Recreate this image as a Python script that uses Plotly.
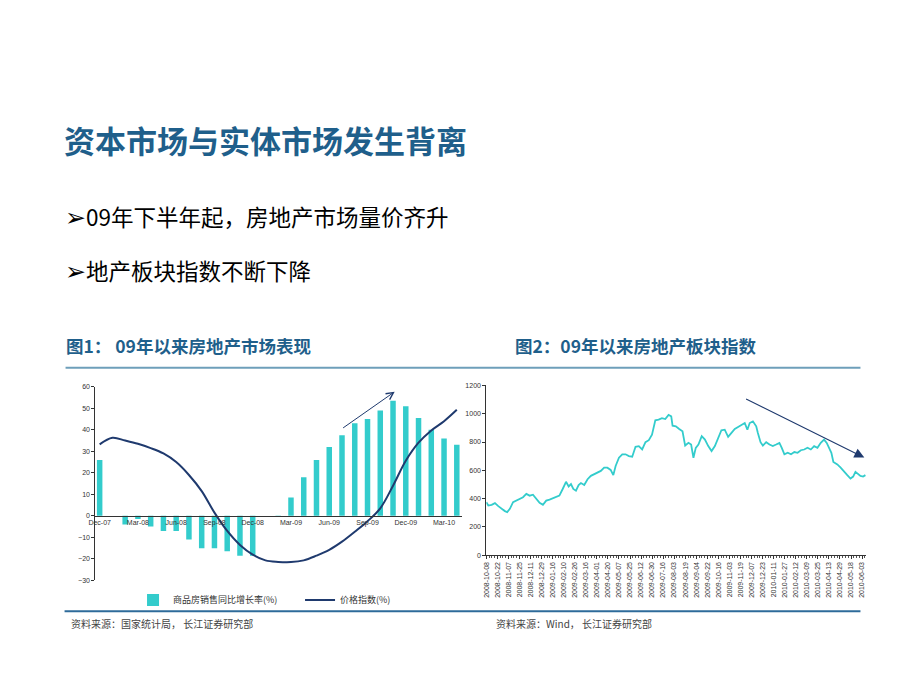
import plotly.graph_objects as go

W, H = 920, 690
def px(x): return x / W
def py(y): return 1 - y / H

# ---------------- Left chart data (monthly) ----------------
months = ["Dec-07", "Jan-08", "Feb-08", "Mar-08", "Apr-08", "May-08", "Jun-08", "Jul-08",
          "Aug-08", "Sep-08", "Oct-08", "Nov-08", "Dec-08", "Jan-09", "Feb-09", "Mar-09",
          "Apr-09", "May-09", "Jun-09", "Jul-09", "Aug-09", "Sep-09", "Oct-09", "Nov-09",
          "Dec-09", "Jan-10", "Feb-10", "Mar-10", "Apr-10"]
sales_yoy = [26, None, -4, -1.5, -5, -7, -7, -11, -15, -15, -16.5, -18.5, -18.5, None,
             -0.4, 8.5, 18, 26, 32, 37.5, 43, 45, 49, 53.5, 51, 45.5, 40, 36, 33]
price_index = [33.2, 36.3, 35.0, 33.5, 31.5, 29.0, 25.0, 19.0, 11.5, 1.5, -7.0, -13.5,
               -18.0, -20.7, -21.4, -21.5, -20.7, -18.5, -15.8, -12.0, -7.4, -2.5, 3.5,
               14.0, 25.6, 34.0, 39.7, 44.0, 49.3]
left_tick_labels = ["Dec-07", "Mar-08", "Jun-08", "Sep-08", "Dec-08", "Mar-09",
                    "Jun-09", "Sep-09", "Dec-09", "Mar-10"]

# ---------------- Right chart data (index, traced) ----------------
date_labels = ["2008-10-08", "2008-10-22", "2008-11-07", "2008-11-25", "2008-12-11",
               "2008-12-29", "2009-01-16", "2009-02-10", "2009-02-26", "2009-03-16",
               "2009-04-01", "2009-04-20", "2009-05-07", "2009-05-25", "2009-06-12",
               "2009-06-30", "2009-07-16", "2009-08-03", "2009-08-19", "2009-09-04",
               "2009-09-22", "2009-10-16", "2009-11-03", "2009-11-19", "2009-12-07",
               "2009-12-23", "2010-01-11", "2010-01-27", "2010-02-12", "2010-03-09",
               "2010-03-25", "2010-04-13", "2010-04-29", "2010-05-18", "2010-06-03"]
# position measured in label intervals (0 = 2008-10-08)
idx_pos = [0.0, 0.18, 0.48, 0.78, 1.08, 1.38, 1.68, 1.89, 2.13, 2.42, 2.72, 3.02, 3.32,
           3.62, 3.92, 4.22, 4.52, 4.82, 5.12, 5.42, 5.72, 6.02, 6.32, 6.61, 6.91, 7.21,
           7.45, 7.66, 7.87, 8.11, 8.35, 8.56, 8.86, 9.16, 9.46, 9.76, 10.06, 10.36,
           10.66, 10.95, 11.25, 11.49, 11.70, 12.00, 12.30, 12.60, 12.90, 13.20, 13.50,
           13.80, 14.10, 14.40, 14.70, 14.99, 15.29, 15.59, 15.89, 16.19, 16.49, 16.73,
           16.85, 17.15, 17.45, 17.75, 17.99, 18.29, 18.53, 18.74, 18.95, 19.19, 19.49,
           19.78, 20.08, 20.38, 20.68, 20.97, 21.27, 21.57, 21.88, 22.18, 22.48, 22.78,
           23.08, 23.38, 23.62, 23.83, 24.12, 24.42, 24.57, 24.81, 25.02, 25.32, 25.62,
           25.92, 26.22, 26.52, 26.73, 26.97, 27.27, 27.57, 27.87, 28.16, 28.46, 28.76,
           29.06, 29.36, 29.66, 29.96, 30.26, 30.56, 30.80, 31.01, 31.22, 31.40, 31.76,
           32.06, 32.36, 32.66, 32.95, 33.19, 33.40, 33.61, 33.85, 34.09, 34.30]
sector_index = [375, 351, 356, 368, 347, 328, 312, 305, 328, 375, 386, 398, 410, 433, 421,
                428, 398, 370, 356, 386, 393, 403, 410, 421, 468, 519, 486, 503, 468, 456,
                496, 510, 496, 537, 561, 573, 580, 596, 619, 619, 603, 566, 631, 689, 713,
                713, 701, 696, 766, 771, 748, 799, 813, 852, 953, 958, 969, 962, 992, 981,
                915, 911, 892, 876, 775, 794, 782, 689, 759, 782, 841, 817, 771, 736, 771,
                822, 883, 887, 836, 864, 892, 906, 922, 934, 887, 934, 946, 911, 864, 799,
                775, 799, 782, 771, 782, 794, 759, 713, 724, 713, 729, 724, 742, 747, 759,
                747, 771, 759, 794, 817, 794, 759, 724, 659, 642, 619, 589, 566, 542, 556,
                589, 573, 561, 556, 566]

TEAL = "#33CCCC"
NAVY = "#1F3A6E"
BLUE_TXT = "#1F5F8B"
AX = "#333333"
CJK = "Noto Sans CJK SC"
LAT = "Liberation Sans"

fig = go.Figure()

fig.add_trace(go.Bar(x=months, y=sales_yoy, name="商品房销售同比增长率(%)",
                     marker=dict(color=TEAL, line=dict(width=0)), width=0.43,
                     xaxis="x", yaxis="y"))
fig.add_trace(go.Scatter(x=months, y=price_index, name="价格指数(%)", mode="lines",
                         line=dict(color=NAVY, width=2, shape="spline", smoothing=1.0),
                         xaxis="x", yaxis="y"))
fig.add_trace(go.Scatter(x=idx_pos, y=sector_index, mode="lines", showlegend=False,
                         line=dict(color=TEAL, width=1.8),
                         xaxis="x2", yaxis="y2"))

# left chart geometry
yd0, yd1 = py(582.3), py(386.7)
zero_pos = yd0 + (yd1 - yd0) * (30 / 90)

fig.update_layout(
    width=W, height=H, autosize=False,
    margin=dict(l=0, r=0, t=0, b=0),
    paper_bgcolor="white", plot_bgcolor="white",
    xaxis=dict(domain=[px(89), px(458)], anchor="free", position=zero_pos,
               type="category", range=[-0.34, 28.37],
               tickmode="array", tickvals=left_tick_labels, ticktext=left_tick_labels,
               showline=True, linecolor=AX, linewidth=1, ticks="",
               showgrid=False, zeroline=False,
               tickfont=dict(family=LAT, size=7, color=AX)),
    yaxis=dict(domain=[yd0, yd1], anchor="x", range=[-30, 60], dtick=10,
               showline=True, linecolor=AX, linewidth=1, ticks="outside", ticklen=3,
               tickcolor=AX, showgrid=False, zeroline=False,
               tickfont=dict(family=LAT, size=7, color=AX)),
    xaxis2=dict(domain=[px(483), px(866)], anchor="y2", range=[0, 34.39],
                tickmode="array", tickvals=list(range(len(date_labels))),
                ticktext=date_labels, tickangle=-90,
                showline=True, linecolor=AX, linewidth=1, ticks="outside", ticklen=3,
                tickcolor=AX, minor=dict(ticks="outside", ticklen=2, dtick=0.25,
                                         tickcolor="#555555"),
                showgrid=False, zeroline=False,
                tickfont=dict(family=LAT, size=7, color=AX)),
    yaxis2=dict(domain=[py(556.9), py(385.3)], anchor="x2", range=[0, 1200], dtick=200,
                showline=True, linecolor=AX, linewidth=1, ticks="outside", ticklen=3,
                tickcolor=AX, showgrid=False, zeroline=False,
                tickfont=dict(family=LAT, size=7, color=AX)),
    legend=dict(orientation="h", x=px(127), y=py(602), xanchor="left", yanchor="middle",
                font=dict(family=CJK, size=9, color=AX), bgcolor="rgba(0,0,0,0)",
                entrywidth=122, entrywidthmode="pixels", itemwidth=30),
)

annotations = [
    dict(text="<b>资本市场与实体市场发生背离</b>", x=px(55), y=py(137), size=31, color=BLUE_TXT),
    dict(text="<span style='font-size:25px'>➢</span>09年下半年起，房地产市场量价齐升",
         x=px(56), y=py(213), size=22.5, color="#000000"),
    dict(text="<span style='font-size:25px'>➢</span>地产板块指数不断下降",
         x=px(56), y=py(268), size=22.5, color="#000000"),
    dict(text="<b>图1： 09年以来房地产市场表现</b>", x=px(57), y=py(345), size=17.5, color=BLUE_TXT),
    dict(text="<b>图2：09年以来房地产板块指数</b>", x=px(510), y=py(345), size=17.5, color=BLUE_TXT),
    dict(text="资料来源：国家统计局， 长江证券研究部", x=px(62), y=py(626), size=10, color="#444444"),
    dict(text="资料来源：Wind， 长江证券研究部", x=px(491), y=py(626), size=10, color="#444444"),
]
for a in annotations:
    fig.add_annotation(text=a["text"], x=a["x"], y=a["y"], xref="paper", yref="paper",
                       xanchor="left", yanchor="middle", showarrow=False,
                       font=dict(family=CJK, size=a["size"], color=a["color"]))

# trend arrows
fig.add_annotation(x=23.13, y=57.7, ax=18.97, ay=40.4, xref="x", yref="y",
                   axref="x", ayref="y", text="", showarrow=True,
                   arrowhead=5, arrowsize=1.4, arrowwidth=1, arrowcolor=NAVY)
fig.add_annotation(x=34.2, y=690, ax=23.37, ay=1109, xref="x2", yref="y2",
                   axref="x2", ayref="y2", text="", showarrow=True,
                   arrowhead=2, arrowsize=1.8, arrowwidth=1.1, arrowcolor=NAVY)

# rules
fig.add_shape(type="line", xref="paper", yref="paper", x0=px(59), x1=px(860),
              y0=py(367.5), y1=py(367.5), line=dict(color="#6E9FBA", width=2))
fig.add_shape(type="line", xref="paper", yref="paper", x0=px(58), x1=px(860),
              y0=py(613.5), y1=py(613.5), line=dict(color="#2E6B9A", width=2))

fig.write_html("out.html", config={"displayModeBar": False},
               post_script="document.body.style.margin='0';")
